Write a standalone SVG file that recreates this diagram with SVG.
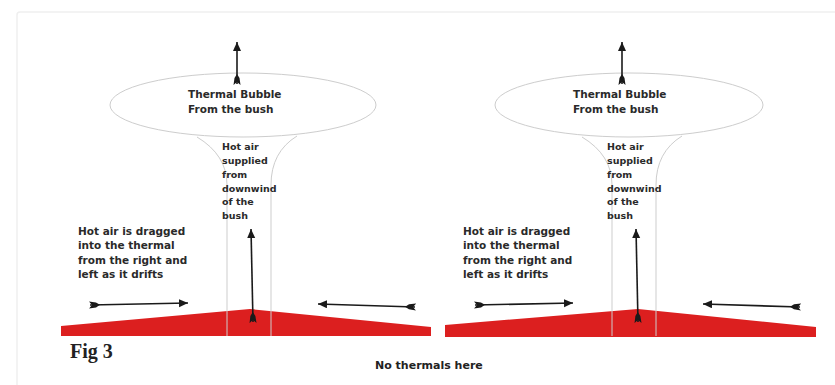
<svg xmlns="http://www.w3.org/2000/svg" width="835" height="385" viewBox="0 0 835 385">
<style>
  .frame{fill:none;stroke:#efefef;stroke-width:1.5}
  .bubble{fill:none;stroke:#cdcdcd;stroke-width:1}
  .col{fill:none;stroke:#cdcdcd;stroke-width:1}
  .ground{fill:#dc1f1f}
  .arr{fill:none;stroke:#1a1a1a;stroke-width:1.6}
  .t{font-family:"DejaVu Sans",sans-serif;font-weight:bold;fill:#2a2a2a}
  .big{font-size:10.5px}
  .small{font-size:9.5px}
  .side{font-size:10.5px}
  .fig{font-family:"Liberation Serif",serif;font-weight:bold;font-size:20px;fill:#222}
  .note{font-family:"DejaVu Sans",sans-serif;font-weight:bold;font-size:11px;fill:#222}
</style>
<defs>
  <marker id="head" markerUnits="userSpaceOnUse" markerWidth="12" markerHeight="10" refX="9" refY="4" orient="auto">
    <path d="M0,0 L9,4 L0,8 Z" fill="#1a1a1a"/>
  </marker>
  <marker id="tail" markerUnits="userSpaceOnUse" markerWidth="14" markerHeight="10" refX="1" refY="4" orient="auto">
    <path d="M0,0.5 L7,1.5 L11,4 L7,6.5 L0,7.5 L3,4 Z" fill="#1a1a1a"/>
  </marker>
</defs>
<rect class="frame" x="17" y="12" width="830" height="390" rx="3"/>

<g id="left-ground"><polygon class="ground" points="61,326 250,309 431,327 431,336 61,336"/></g>
<g id="right-ground"><polygon class="ground" points="445,325 638,309 816,327 816,337 445,337"/></g>

<g id="left-bubble">
  <ellipse class="bubble" cx="243" cy="105" rx="133" ry="32"/>
  <text class="t big" x="188" y="98">Thermal Bubble</text>
  <text class="t big" x="188" y="113">From the bush</text>
</g>
<g id="left-column">
  <path class="col" d="M197,137 Q227,155 227,185 L227,336"/>
  <path class="col" d="M297,136 Q271,152 271,185 L271,336"/>
  <text class="t small"><tspan x="222" y="150">Hot air</tspan><tspan x="222" y="164">supplied</tspan><tspan x="222" y="178">from</tspan><tspan x="222" y="192">downwind</tspan><tspan x="222" y="205">of  the</tspan><tspan x="222" y="219">bush</tspan></text>
</g>
<g id="left-note">
  <text class="t side"><tspan x="78" y="235">Hot air is dragged</tspan><tspan x="78" y="249">into the thermal</tspan><tspan x="78" y="264">from the right and</tspan><tspan x="78" y="278">left as it drifts</tspan></text>
</g>

<g id="right-bubble">
  <ellipse class="bubble" cx="629" cy="105" rx="134" ry="32"/>
  <text class="t big" x="573" y="98">Thermal Bubble</text>
  <text class="t big" x="573" y="113">From the bush</text>
</g>
<g id="right-column">
  <path class="col" d="M582,137 Q612,155 612,185 L612,336"/>
  <path class="col" d="M682,136 Q656,152 656,185 L656,336"/>
  <text class="t small"><tspan x="607" y="150">Hot air</tspan><tspan x="607" y="164">supplied</tspan><tspan x="607" y="178">from</tspan><tspan x="607" y="192">downwind</tspan><tspan x="607" y="205">of  the</tspan><tspan x="607" y="219">bush</tspan></text>
</g>
<g id="right-note">
  <text class="t side"><tspan x="463" y="235">Hot air is dragged</tspan><tspan x="463" y="249">into the thermal</tspan><tspan x="463" y="264">from the right and</tspan><tspan x="463" y="278">left as it drifts</tspan></text>
</g>

<g id="connectors">
  <line class="arr" x1="237" y1="84" x2="237" y2="42" marker-start="url(#tail)" marker-end="url(#head)"/>
  <line class="arr" x1="253" y1="322" x2="251" y2="229" marker-start="url(#tail)" marker-end="url(#head)"/>
  <line class="arr" x1="90" y1="305" x2="188" y2="303" marker-start="url(#tail)" marker-end="url(#head)"/>
  <line class="arr" x1="415" y1="307" x2="318" y2="304" marker-start="url(#tail)" marker-end="url(#head)"/>
  <line class="arr" x1="622" y1="84" x2="622" y2="42" marker-start="url(#tail)" marker-end="url(#head)"/>
  <line class="arr" x1="638" y1="322" x2="636" y2="229" marker-start="url(#tail)" marker-end="url(#head)"/>
  <line class="arr" x1="475" y1="305" x2="573" y2="303" marker-start="url(#tail)" marker-end="url(#head)"/>
  <line class="arr" x1="800" y1="307" x2="703" y2="304" marker-start="url(#tail)" marker-end="url(#head)"/>
</g>

<g id="labels">
  <text class="fig" x="70" y="358">Fig 3</text>
  <text class="note" x="375" y="369">No thermals here</text>
</g>
</svg>
